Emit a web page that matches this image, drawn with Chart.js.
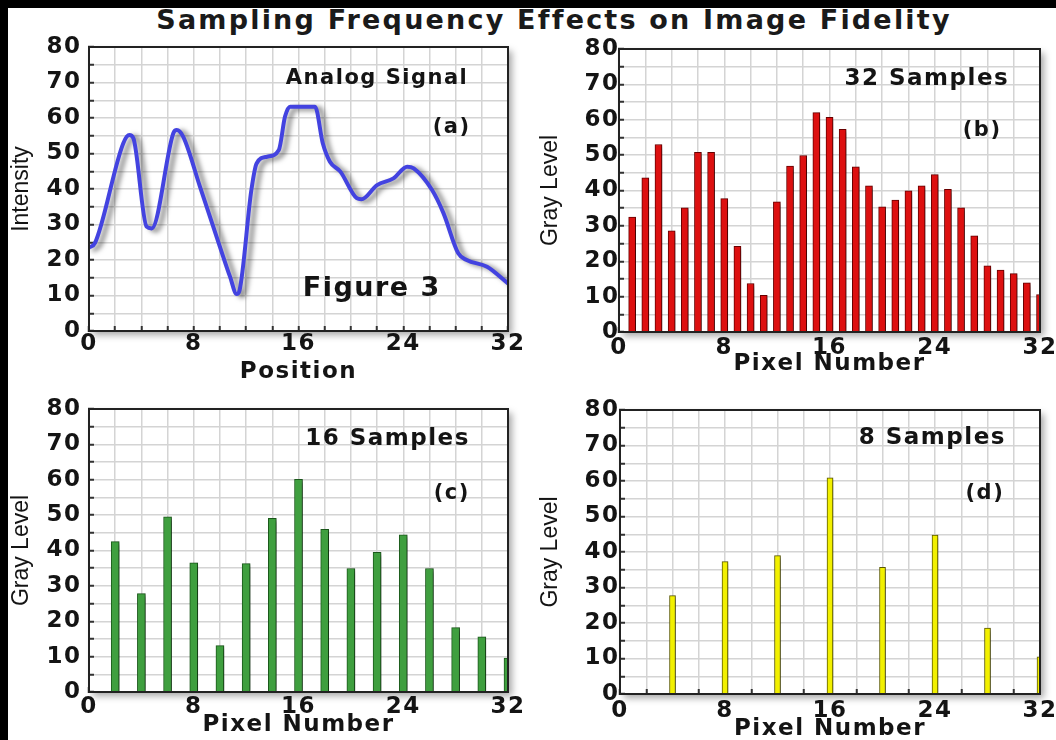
<!DOCTYPE html>
<html>
<head>
<meta charset="utf-8">
<script src="https://cdn.jsdelivr.net/npm/chart.js@4.4.1/dist/chart.umd.min.js"></script>
<style>
  html, body { margin: 0; padding: 0; background: #000; width: 1056px; height: 740px; overflow: hidden; }
  #sheet { position: absolute; left: 8px; top: 8px; right: 0; bottom: 0; background: #fff; }
  #title { position: absolute; left: 100px; width: 908px; top: 4px; height: 30px; line-height: 30px;
           text-align: center; font: bold 27px 'DejaVu Sans'; letter-spacing: 2.2px; color: #1a1a1a; white-space: nowrap; }
  canvas { position: absolute; }
</style>
</head>
<body>
<div id="sheet"></div>
<div id="title">Sampling Frequency Effects on Image Fidelity</div>
<canvas id="pa" width="528" height="360" style="left:0;top:30px"></canvas>
<canvas id="pb" width="528" height="360" style="left:528px;top:30px"></canvas>
<canvas id="pc" width="528" height="360" style="left:0;top:390px"></canvas>
<canvas id="pd" width="528" height="360" style="left:528px;top:390px"></canvas>
<script>
// ── DATA ──
const X_TICKS = [0, 8, 16, 24, 32];
const Y_TICKS = [0, 10, 20, 30, 40, 50, 60, 70, 80];

// (a) analog signal
const ANALOG_X = [0, 0.46, 2.62, 3.08, 3.39, 4.4, 4.79, 6.44, 6.7, 7.2, 8.48, 10.0, 10.77, 11.28, 11.5, 12.4, 12.8, 13.6, 14.5, 14.97, 15.36, 17.26, 17.86, 18.4, 19.2, 20.45, 20.8, 22.0, 23.25, 24.3, 24.8, 26.2, 27.07, 28.2, 28.85, 30.4, 32.0];
const ANALOG_Y = [23.5, 24.8, 52.9, 55.2, 54.3, 29.4, 28.9, 55.7, 56.6, 54.7, 40.6, 23.7, 15.3, 10.4, 11.5, 39.7, 47.2, 49.1, 51, 60.4, 63.2, 63.2, 52.8, 47.7, 44.9, 37.4, 37.1, 41.1, 43, 46.3, 45.8, 39.7, 33.2, 21.9, 20, 18.1, 13.4];

// (b) 32 samples
const PIX32 = [1, 2, 3, 4, 5, 6, 7, 8, 9, 10, 11, 12, 13, 14, 15, 16, 17, 18, 19, 20, 21, 22, 23, 24, 25, 26, 27, 28, 29, 30, 31, 32];
const GRAY32 = [32.5, 43.6, 53, 28.6, 35.1, 50.8, 50.8, 37.7, 24.2, 13.7, 10.4, 36.8, 46.9, 49.9, 62, 60.7, 57.3, 46.7, 41.3, 35.4, 37.3, 39.9, 41.3, 44.5, 40.3, 35.1, 27.2, 18.7, 17.5, 16.5, 13.9, 10.6];

// (c) 16 samples
const PIX16 = [2, 4, 6, 8, 10, 12, 14, 16, 18, 20, 22, 24, 26, 28, 30, 32];
const GRAY16 = [42.5, 27.8, 49.5, 36.5, 13.1, 36.3, 49.1, 60.1, 46, 34.9, 39.5, 44.4, 34.9, 18.2, 15.6, 9.6];

// (d) 8 samples
const PIX8 = [4, 8, 12, 16, 20, 24, 28, 32];
const GRAY8 = [27.7, 37.3, 39, 60.9, 35.7, 44.8, 18.6, 10.5];

// in-plot captions, placed in data units
const NOTES = {
  pa: [{ text: 'Analog Signal', x: 22.0, y: 71, size: 21 },
       { text: '(a)', x: 27.7, y: 57.2, size: 21 },
       { text: 'Figure 3', x: 21.6, y: 11.8, size: 27 }],
  pb: [{ text: '32 Samples', x: 23.4, y: 71.5, size: 23 },
       { text: '(b)', x: 27.6, y: 57, size: 21 }],
  pc: [{ text: '16 Samples', x: 22.8, y: 71.5, size: 23 },
       { text: '(c)', x: 27.7, y: 56.2, size: 21 }],
  pd: [{ text: '8 Samples', x: 23.8, y: 72, size: 23 },
       { text: '(d)', x: 27.8, y: 56.5, size: 21 }]
};

// ── LAYOUT per panel ──
const LAYOUT = {
  pa: { pad: { left: 0, top: 17, right: 20, bottom: 0 }, yw: 89, xh: 59, xtp: 4, ytp: 12.5, ytx: 22, xt: 4, yTitle: 'Intensity', xTitle: 'Position' },
  pb: { pad: { left: 0, top: 19, right: 16, bottom: 0 }, yw: 91, xh: 58, xtp: 7, ytp: 4.5, ytx: 23, xt: 12, yTitle: 'Gray Level', xTitle: 'Pixel Number' },
  pc: { pad: { left: 0, top: 19, right: 20, bottom: 0 }, yw: 89, xh: 58, xtp: 6, ytp: 12.5, ytx: 22, xt: 11, yTitle: 'Gray Level', xTitle: 'Pixel Number' },
  pd: { pad: { left: 0, top: 20, right: 16, bottom: 0 }, yw: 92, xh: 56, xtp: 8, ytp: 5.5, ytx: 23, xt: 7, yTitle: 'Gray Level', xTitle: 'Pixel Number' }
};

const INK = '#141414';
const SPACING = '1.5px';
const tickFont = { family: 'DejaVu Sans', weight: 'bold', size: 23 };

// ── PLUGINS ──
const paper = {
  id: 'paper',
  beforeLayout(chart) { chart.ctx.letterSpacing = SPACING; },
  beforeDraw(chart) {
    const { ctx, chartArea: a } = chart;
    ctx.letterSpacing = SPACING;
    ctx.save();
    ctx.shadowColor = 'rgba(0,0,0,0.35)';
    ctx.shadowBlur = 7; ctx.shadowOffsetX = 4; ctx.shadowOffsetY = 4;
    ctx.fillStyle = '#fff';
    ctx.fillRect(a.left, a.top, a.right - a.left, a.bottom - a.top);
    ctx.restore();
  },
  beforeDatasetsDraw(chart) {
    const ctx = chart.ctx;
    ctx.save();
    ctx.shadowColor = 'rgba(0,0,0,0.5)';
    ctx.shadowBlur = 5; ctx.shadowOffsetX = 5; ctx.shadowOffsetY = 2;
  },
  afterDatasetsDraw(chart) {
    const { ctx, chartArea: a } = chart;
    ctx.restore();
    ctx.save();
    ctx.strokeStyle = '#222'; ctx.lineWidth = 2;
    ctx.strokeRect(a.left, a.top, a.right - a.left, a.bottom - a.top);
    ctx.restore();
  },
  afterDraw(chart) {
    const { ctx, chartArea: a, scales: { x, y } } = chart;
    const L = LAYOUT[chart.canvas.id];
    ctx.save();
    ctx.fillStyle = INK;
    ctx.textAlign = 'center'; ctx.textBaseline = 'middle';
    ctx.letterSpacing = SPACING;
    (NOTES[chart.canvas.id] || []).forEach(n => {
      ctx.font = `bold ${n.size}px "DejaVu Sans"`;
      ctx.fillText(n.text, x.getPixelForValue(n.x), y.getPixelForValue(n.y));
    });
    // vertical axis title: plain narrow face, no extra spacing
    ctx.letterSpacing = '0px';
    ctx.font = '23px "Liberation Sans"';
    ctx.translate(L.ytx, (a.top + a.bottom) / 2);
    ctx.rotate(-Math.PI / 2);
    ctx.fillText(L.yTitle, 0, 0);
    ctx.restore();
  }
};

function scalesFor(id) {
  const L = LAYOUT[id];
  return {
    x: { type: 'linear', min: 0, max: 32, offset: false,
      afterFit: s => { s.height = L.xh; s.paddingLeft = 0; s.paddingRight = 0; },
      grid: { color: '#d4d4d4', lineWidth: 1.5, offset: false, tickLength: -5, tickColor: '#333', tickWidth: 2 },
      border: { color: '#222', width: 2 },
      ticks: { stepSize: 2, autoSkip: false, maxRotation: 0, padding: L.xtp, color: INK, font: tickFont,
        callback: v => X_TICKS.includes(v) ? String(v) : '' },
      title: { display: true, text: L.xTitle, color: INK, padding: { top: 0, bottom: L.xt },
        font: { family: 'DejaVu Sans', weight: 'bold', size: 23 } } },
    y: { min: 0, max: 80,
      afterFit: s => { s.width = L.yw; s.paddingTop = 0; s.paddingBottom = 0; },
      grid: { color: '#d4d4d4', lineWidth: 1.5, tickLength: -5, tickColor: '#333', tickWidth: 2 },
      border: { color: '#222', width: 2 },
      ticks: { stepSize: 5, autoSkip: false, padding: L.ytp, color: INK, font: tickFont,
        callback: v => Y_TICKS.includes(v) ? String(v) : '' } }
  };
}

function baseOptions(id) {
  return {
    responsive: false, animation: false, devicePixelRatio: 1,
    layout: { padding: LAYOUT[id].pad },
    plugins: { legend: { display: false }, tooltip: { enabled: false } },
    scales: scalesFor(id)
  };
}

// ── (a) ANALOG ──
new Chart(document.getElementById('pa'), {
  type: 'line',
  data: { datasets: [{ data: ANALOG_X.map((x, i) => ({ x, y: ANALOG_Y[i] })),
    borderColor: '#4343e0', borderWidth: 4, pointRadius: 0, cubicInterpolationMode: 'monotone',
    borderCapStyle: 'round', borderJoinStyle: 'round', clip: 0 }] },
  options: baseOptions('pa'),
  plugins: [paper]
});

// ── SAMPLED BARS ──
function barPanel(id, px, vals, fill, edge, thick) {
  new Chart(document.getElementById(id), {
    type: 'bar',
    data: { datasets: [{ data: px.map((x, i) => ({ x, y: vals[i] })),
      backgroundColor: fill, borderColor: edge, borderWidth: 1, borderSkipped: 'bottom',
      barThickness: thick, clip: 0 }] },
    options: baseOptions(id),
    plugins: [paper]
  });
}

barPanel('pb', PIX32, GRAY32, '#dd1010', '#6a0000', 7);
barPanel('pc', PIX16, GRAY16, '#3f9f3f', '#1c5a1c', 8);
barPanel('pd', PIX8, GRAY8, '#f2f000', '#5c5a00', 6);
</script>
</body>
</html>
